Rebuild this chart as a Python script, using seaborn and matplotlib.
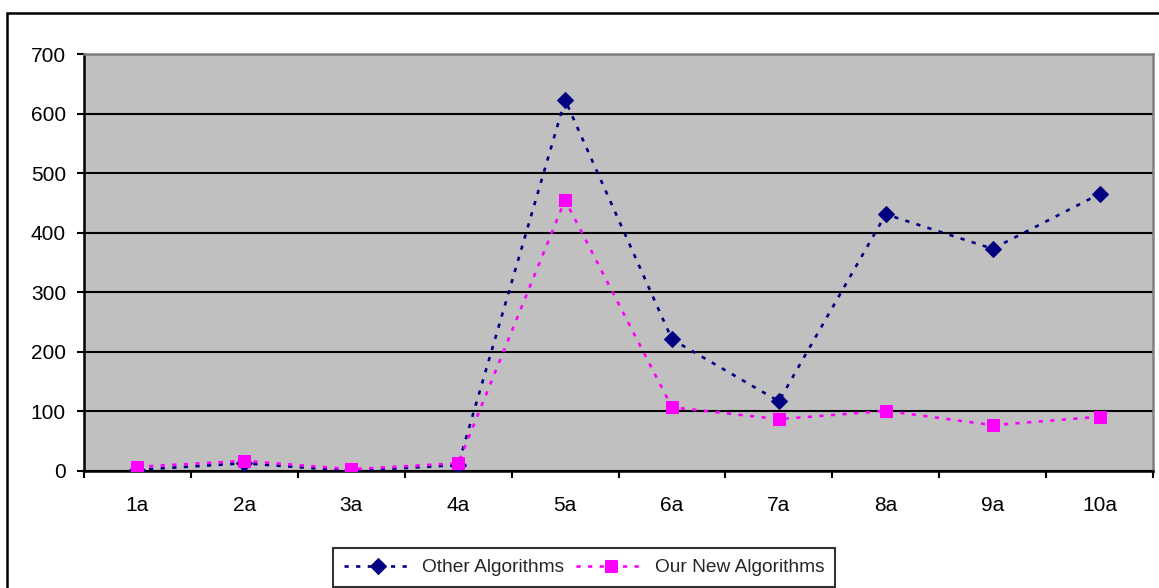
import matplotlib
matplotlib.use("Agg")
import matplotlib.pyplot as plt
from matplotlib.patches import Rectangle
from matplotlib.ticker import FixedLocator, MultipleLocator
import seaborn as sns
import pandas as pd

categories = ["1a", "2a", "3a", "4a", "5a", "6a", "7a", "8a", "9a", "10a"]
other_algorithms = [2, 13, 0, 10, 623, 221, 117, 431, 373, 465]
new_algorithms = [7, 17, 3, 13, 455, 107, 87, 101, 77, 91]

series_names = ["Other Algorithms", "Our New Algorithms"]

sns.set_theme(style="white")
plt.rcParams["font.family"] = ["Liberation Sans", "DejaVu Sans"]

df = pd.DataFrame({
    "pos": list(range(len(categories))) * 2,
    "value": other_algorithms + new_algorithms,
    "series": [series_names[0]] * len(categories) + [series_names[1]] * len(categories),
})

W, H = 1159, 588
fig = plt.figure(figsize=(W / 100, H / 100), dpi=100)
fig.patch.set_facecolor("white")
ax = fig.add_axes([84 / W, 1 - 471 / H, (1153 - 84) / W, (471 - 54) / H])
ax.set_facecolor("#C0C0C0")

navy = "#000080"
magenta = "#FF00FF"
dots = (0, (1.6, 2.8))
lw = 1.9

sns.lineplot(data=df[df.series == series_names[0]], x="pos", y="value",
             ax=ax, color=navy, lw=lw, linestyle=dots, marker="D",
             markersize=8.5, markeredgecolor=navy, markerfacecolor=navy,
             label=series_names[0], sort=False, zorder=3)
sns.lineplot(data=df[df.series == series_names[1]], x="pos", y="value",
             ax=ax, color=magenta, lw=lw, linestyle=dots, marker="s",
             markersize=8.5, markeredgecolor=magenta, markerfacecolor=magenta,
             label=series_names[1], sort=False, zorder=4)

ax.set_xlim(-0.5, len(categories) - 0.5)
ax.set_ylim(0, 700)
ax.yaxis.set_major_locator(MultipleLocator(100))
ax.grid(axis="y", color="black", lw=1.5, zorder=1)
ax.grid(axis="x", visible=False)
ax.set_axisbelow(True)

ax.set_xticks(range(len(categories)))
ax.set_xticklabels(categories)
ax.xaxis.set_minor_locator(FixedLocator([i - 0.5 for i in range(len(categories) + 1)]))
ax.tick_params(axis="x", which="major", length=0, pad=18, labelsize=15, colors="black")
ax.tick_params(axis="x", which="minor", length=5, width=1.5, color="black", direction="out")
ax.tick_params(axis="y", which="major", length=5, width=1.5, color="black",
               direction="out", pad=8, labelsize=15, labelcolor="black")
ax.tick_params(axis="y", left=True)
ax.tick_params(axis="x", which="minor", bottom=True)

ax.set_xlabel("")
ax.set_ylabel("")

for side in ("left", "bottom"):
    ax.spines[side].set_color("black")
    ax.spines[side].set_linewidth(1.8)
for side in ("top", "right"):
    ax.spines[side].set_color("#808080")
    ax.spines[side].set_linewidth(1.8)

leg = ax.legend(loc="center", bbox_to_anchor=(584 / W, 1 - 567.5 / H),
                bbox_transform=fig.transFigure, ncol=2, frameon=True,
                fancybox=False, edgecolor="black", fontsize=13.8,
                handlelength=3.6, handletextpad=0.5, columnspacing=0.6,
                borderpad=0.55, borderaxespad=0)
leg.get_frame().set_linewidth(1.5)
leg.get_frame().set_facecolor("white")

fig.patches.append(Rectangle((7 / W, -0.1), 1.2, (H - 13) / H + 0.1,
                             transform=fig.transFigure, fill=False,
                             edgecolor="black", lw=1.8, zorder=0))

fig.savefig("out.png", dpi=100)
